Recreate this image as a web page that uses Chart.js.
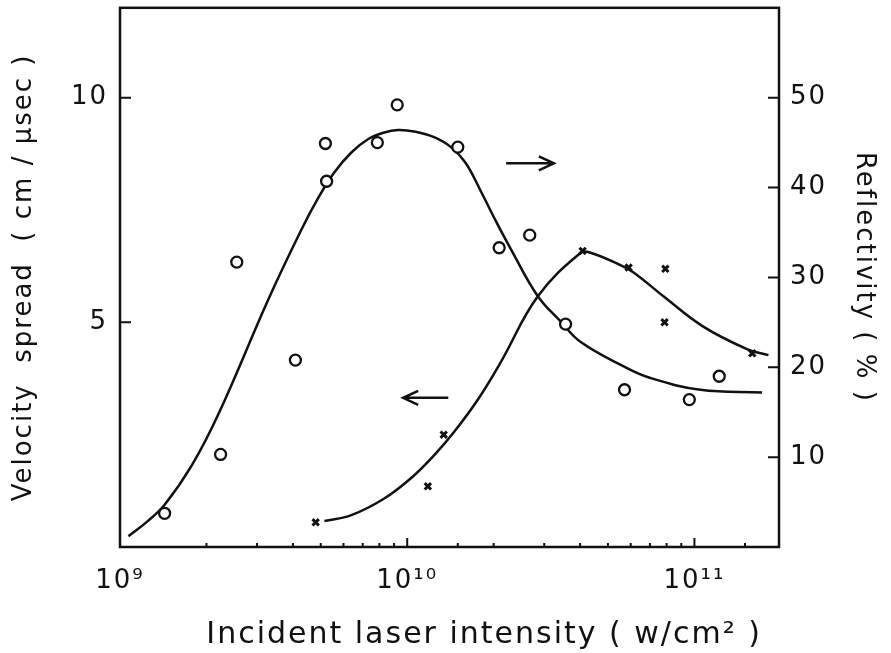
<!DOCTYPE html>
<html>
<head>
<meta charset="utf-8">
<script src="https://cdn.jsdelivr.net/npm/chart.js@4.4.1/dist/chart.umd.min.js"></script>
<style>
  body { margin: 0; background: #fff; }
  canvas { display: block; }
</style>
</head>
<body>
<canvas id="chart" width="891" height="653"></canvas>
<script>
// Reflectivity measurements (circles, right axis, %)
const circleX = [1.43e9, 2.24e9, 2.55e9, 4.08e9, 5.19e9, 5.24e9, 7.87e9, 9.23e9, 1.50e10, 2.09e10, 2.67e10, 3.56e10, 5.71e10, 9.6e10, 1.22e11];
const circleY = [3.75, 10.3, 31.7, 20.8, 44.9, 40.7, 45.0, 49.2, 44.5, 33.3, 34.7, 24.8, 17.5, 16.4, 19.0];

// Velocity spread measurements (crosses, left axis, cm/usec)
const crossX = [4.8e9, 1.18e10, 1.34e10, 4.08e10, 5.9e10, 7.92e10, 7.87e10, 1.59e11];
const crossY = [0.55, 1.35, 2.5, 6.59, 6.22, 6.19, 5.0, 4.31];

// hand drawn fit curves
const reflFitX = [1.07e9, 1.24e9, 1.43e9, 1.78e9, 2.21e9, 3.29e9, 4.28e9, 4.91e9, 5.58e9, 6.39e9, 7.32e9, 8.26e9, 9.3e9, 1.07e10, 1.24e10, 1.42e10, 1.60e10, 1.81e10, 2.04e10, 2.30e10, 2.85e10, 3.42e10, 4.02e10, 5.67e10, 7.03e10, 1.05e11, 1.72e11];
const reflFitY = [1.2, 2.8, 4.7, 9.1, 14.9, 27.6, 35.3, 38.9, 41.7, 43.9, 45.4, 46.1, 46.4, 46.2, 45.6, 44.5, 42.7, 39.5, 36.2, 33.1, 27.9, 25.1, 22.8, 20.1, 18.8, 17.5, 17.2];
const velFitX = [5.15e9, 6.39e9, 8.32e9, 1.03e10, 1.24e10, 1.46e10, 1.77e10, 2.12e10, 2.85e10, 4.02e10, 4.35e10, 5.5e10, 6.14e10, 7.8e10, 1.07e11, 1.53e11, 1.81e11];
const velFitY = [0.58, 0.71, 1.08, 1.53, 2.04, 2.57, 3.30, 4.12, 5.58, 6.55, 6.55, 6.28, 6.11, 5.58, 4.91, 4.40, 4.27];

// axis ticks
const xTickValues = [1e9, 1e10, 1e11];
const xTickLabels = ['10\u2079', '10\u00B9\u2070', '10\u00B9\u00B9'];
const leftTickValues = [5, 10];
const rightTickValues = [10, 20, 30, 40, 50];

// arrows telling which curve belongs to which axis
const arrowRightX = [2.21e10, 3.24e10];
const arrowRightY = 42.7;
const arrowLeftX = [1.39e10, 9.68e9];
const arrowLeftY = 3.32;

const FONT = "'DejaVu Sans', sans-serif";
const INK = '#111';

function toPoints(xs, ys) {
  return xs.map((x, i) => ({ x: x, y: ys[i] }));
}

// the lettering of the original is set wide
const spacing = {
  id: 'spacing',
  beforeLayout(chart) { chart.ctx.letterSpacing = '2px'; },
  beforeDraw(chart) { chart.ctx.letterSpacing = '2px'; }
};

// frame, inward tick marks and the two arrows
const decorations = {
  id: 'decorations',
  afterDatasetsDraw(chart) {
    const { ctx, chartArea: a, scales } = chart;
    ctx.save();
    ctx.strokeStyle = INK;
    ctx.lineWidth = 2.5;
    ctx.strokeRect(a.left, a.top, a.right - a.left, a.bottom - a.top);

    ctx.lineWidth = 2;
    ctx.beginPath();
    scales.x.ticks.forEach(t => {
      const p = scales.x.getPixelForValue(t.value);
      const major = xTickValues.includes(t.value);
      ctx.moveTo(p, a.bottom);
      ctx.lineTo(p, a.bottom - (major ? 9 : 4));
    });
    scales.y.ticks.forEach(t => {
      const p = scales.y.getPixelForValue(t.value);
      ctx.moveTo(a.left, p);
      ctx.lineTo(a.left + 11, p);
    });
    scales.y1.ticks.forEach(t => {
      const p = scales.y1.getPixelForValue(t.value);
      ctx.moveTo(a.right, p);
      ctx.lineTo(a.right - 11, p);
    });
    ctx.stroke();

    function arrow(x0, x1, py) {
      const p0 = scales.x.getPixelForValue(x0);
      const p1 = scales.x.getPixelForValue(x1);
      const dir = p1 > p0 ? 1 : -1;
      ctx.beginPath();
      ctx.moveTo(p0, py);
      ctx.lineTo(p1, py);
      ctx.moveTo(p1 - dir * 15, py - 7);
      ctx.lineTo(p1, py);
      ctx.lineTo(p1 - dir * 15, py + 7);
      ctx.stroke();
    }
    ctx.lineWidth = 2.5;
    arrow(arrowRightX[0], arrowRightX[1], scales.y1.getPixelForValue(arrowRightY));
    arrow(arrowLeftX[0], arrowLeftX[1], scales.y.getPixelForValue(arrowLeftY));
    ctx.restore();
  }
};

const lineStyle = {
  showLine: true,
  pointRadius: 0,
  borderColor: INK,
  borderWidth: 2.5,
  tension: 0.4,
  fill: false
};

// vertical axes: fixed width, no extra room for half labels
function fixVertical(width) {
  return function (scale) {
    scale.width = width;
    scale.paddingTop = 0;
    scale.paddingBottom = 0;
  };
}

new Chart(document.getElementById('chart').getContext('2d'), {
  type: 'scatter',
  data: {
    datasets: [
      {
        label: 'Reflectivity',
        data: toPoints(circleX, circleY),
        yAxisID: 'y1',
        pointStyle: 'circle',
        pointRadius: 5.5,
        pointBorderWidth: 2.3,
        pointBorderColor: INK,
        pointBackgroundColor: '#fff'
      },
      {
        label: 'Velocity spread',
        data: toPoints(crossX, crossY),
        yAxisID: 'y',
        pointStyle: 'crossRot',
        pointRadius: 4.5,
        pointBorderWidth: 3,
        pointBorderColor: INK
      },
      Object.assign({ label: 'Reflectivity fit', data: toPoints(reflFitX, reflFitY), yAxisID: 'y1' }, lineStyle),
      Object.assign({ label: 'Velocity fit', data: toPoints(velFitX, velFitY), yAxisID: 'y' }, lineStyle)
    ]
  },
  options: {
    responsive: false,
    animation: false,
    layout: { padding: { top: 5, left: 0, right: 0, bottom: 0 } },
    plugins: {
      legend: { display: false },
      tooltip: { enabled: false }
    },
    scales: {
      x: {
        type: 'logarithmic',
        min: 1e9,
        max: 1.97e11,
        grid: { display: false, drawTicks: false },
        border: { display: false },
        afterFit(scale) { scale.height = 106; },
        ticks: {
          autoSkip: false,
          maxRotation: 0,
          padding: 19,
          color: INK,
          font: { family: FONT, size: 26 },
          callback(value) {
            const i = xTickValues.indexOf(value);
            return i >= 0 ? xTickLabels[i] : '';
          }
        },
        title: {
          display: true,
          text: '\u00A0\u00A0\u00A0\u00A0\u00A0\u00A0Incident laser intensity ( w/cm\u00B2 )',
          color: INK,
          font: { family: FONT, size: 30 },
          padding: { top: 0, bottom: 0 }
        }
      },
      y: {
        position: 'left',
        min: 0,
        max: 12,
        grid: { display: false, drawTicks: false },
        border: { display: false },
        afterFit: fixVertical(120),
        afterBuildTicks(scale) { scale.ticks = leftTickValues.map(v => ({ value: v })); },
        ticks: {
          padding: 12,
          color: INK,
          font: { family: FONT, size: 26 }
        },
        title: {
          display: true,
          text: 'Velocity  spread  ( cm / \u03BCsec )',
          color: INK,
          font: { family: FONT, size: 26 },
          padding: { top: 9, bottom: 0 }
        }
      },
      y1: {
        position: 'right',
        min: 0,
        max: 60,
        grid: { display: false, drawTicks: false },
        border: { display: false },
        afterFit: fixVertical(112),
        afterBuildTicks(scale) { scale.ticks = rightTickValues.map(v => ({ value: v })); },
        ticks: {
          padding: 11,
          color: INK,
          font: { family: FONT, size: 26 }
        },
        title: {
          display: true,
          text: 'Reflectivity ( % )',
          color: INK,
          font: { family: FONT, size: 26 },
          padding: { top: 12, bottom: 0 }
        }
      }
    }
  },
  plugins: [spacing, decorations]
});
</script>
</body>
</html>
